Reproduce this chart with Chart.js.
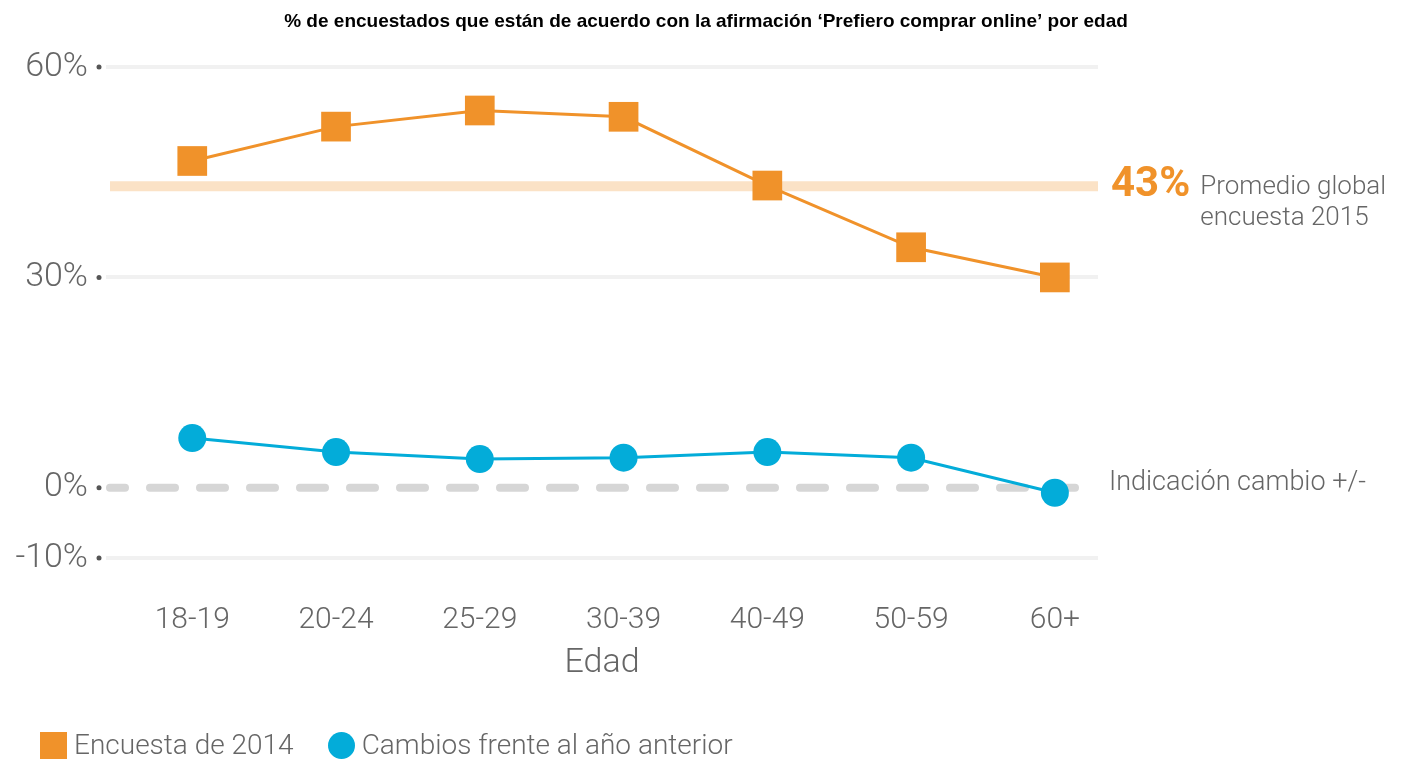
<!DOCTYPE html>
<html lang="es">
<head>
<meta charset="utf-8">
<title>Prefiero comprar online por edad</title>
<script src="https://cdn.jsdelivr.net/npm/chart.js@4"></script>
<style>
  body { margin: 0; background: #fff; }
  #wrap { position: relative; width: 1412px; height: 760px; }
  #leyenda {
    position: absolute; left: 40px; top: 731px;
    display: flex; align-items: center;
    font-family: Roboto, "Liberation Sans", sans-serif; font-weight: 300;
    font-size: 28px; line-height: 28px; color: #666;
  }
  #leyenda .item { display: flex; align-items: center; margin-right: 34px; }
  #leyenda .marca { width: 27px; height: 27px; margin-right: 7px; }
</style>
</head>
<body>
<div id="wrap">
  <canvas id="grafico" width="1412" height="760"></canvas>
  <div id="leyenda"></div>
</div>
<script>
// Datos
const edades = ['18-19', '20-24', '25-29', '30-39', '40-49', '50-59', '60+'];
const encuesta2014 = [46.6, 51.5, 53.8, 52.9, 43.1, 34.3, 30.0];
const cambios = [7.1, 5.1, 4.1, 4.3, 5.1, 4.3, -0.7];
const promedioGlobal = 43;
const ticksY = [60, 30, 0, -10];
const titulo = '% de encuestados que están de acuerdo con la afirmación ‘Prefiero comprar online’ por edad';

const NARANJA = '#F0922A';
const CIAN = '#03ACD9';
const GRIS = '#666666';
const FUENTE = 'Roboto, "Liberation Sans", sans-serif';

// Título centrado en todo el lienzo, franja del promedio, línea de cero y textos a la derecha
const anotaciones = {
  id: 'anotaciones',
  beforeDatasetsDraw(chart) {
    const { ctx, chartArea: area, scales: { y } } = chart;
    ctx.save();
    // franja 43%
    const yProm = y.getPixelForValue(promedioGlobal);
    ctx.strokeStyle = '#FBE2C6';
    ctx.lineWidth = 10;
    ctx.beginPath();
    ctx.moveTo(area.left + 4, yProm);
    ctx.lineTo(area.right, yProm);
    ctx.stroke();
    // línea de cero
    const y0 = y.getPixelForValue(0);
    ctx.strokeStyle = '#D6D6D6';
    ctx.lineWidth = 8;
    ctx.lineCap = 'round';
    ctx.setLineDash([25, 25]);
    ctx.lineDashOffset = 10;
    ctx.beginPath();
    ctx.moveTo(area.left + 4, y0);
    ctx.lineTo(area.right + 2, y0);
    ctx.stroke();
    ctx.restore();
  },
  afterDraw(chart) {
    const { ctx, chartArea: area, scales: { y } } = chart;
    ctx.save();
    ctx.textBaseline = 'middle';
    // título
    ctx.textAlign = 'center';
    ctx.fillStyle = '#000';
    ctx.font = 'bold 19px "Liberation Sans", Arial, sans-serif';
    ctx.fillText(titulo, chart.width / 2, 22);
    // puntos junto a las etiquetas del eje Y
    ctx.fillStyle = '#555';
    y.ticks.forEach(t => {
      ctx.beginPath();
      ctx.arc(area.left - 7, y.getPixelForValue(t.value), 2.5, 0, Math.PI * 2);
      ctx.fill();
    });
    const x = area.right + 13;
    const yProm = y.getPixelForValue(promedioGlobal);
    ctx.textAlign = 'left';
    ctx.fillStyle = NARANJA;
    ctx.font = 'bold 42px ' + FUENTE;
    const txt = promedioGlobal + '%';
    ctx.fillText(txt, x, yProm - 1);
    const xt = x + ctx.measureText(txt).width + 10;
    ctx.fillStyle = GRIS;
    ctx.font = '300 26px ' + FUENTE;
    ctx.fillText('Promedio global', xt, yProm + 1);
    ctx.fillText('encuesta 2015', xt, yProm + 32);
    ctx.font = '300 27px ' + FUENTE;
    ctx.fillText('Indicación cambio +/-', x - 2, y.getPixelForValue(0) - 5);
    ctx.restore();
  }
};

const puntos = vals => vals.map((v, i) => ({ x: i, y: v }));

new Chart(document.getElementById('grafico'), {
  type: 'line',
  data: {
    datasets: [
      {
        label: 'Encuesta de 2014',
        data: puntos(encuesta2014),
        borderColor: NARANJA,
        backgroundColor: NARANJA,
        borderWidth: 3,
        pointStyle: 'rect',
        pointRadius: 21,
        pointHoverRadius: 21,
        pointBorderWidth: 0
      },
      {
        label: 'Cambios frente al año anterior',
        data: puntos(cambios),
        borderColor: CIAN,
        backgroundColor: CIAN,
        borderWidth: 3,
        pointStyle: 'circle',
        pointRadius: 14,
        pointHoverRadius: 14,
        pointBorderWidth: 0
      }
    ]
  },
  options: {
    responsive: false,
    devicePixelRatio: 1,
    animation: false,
    layout: { padding: { left: 0, right: 314, top: 67, bottom: 76 } },
    plugins: {
      legend: { display: false },
      tooltip: { enabled: false }
    },
    scales: {
      x: {
        type: 'linear',
        min: -0.6,
        max: 6.3,
        afterBuildTicks: s => { s.ticks = edades.map((e, i) => ({ value: i })); },
        afterFit: s => { s.height = 126; },
        grid: { display: false },
        border: { display: false },
        ticks: {
          callback: v => edades[v],
          color: GRIS,
          padding: 36,
          maxRotation: 0,
          font: { family: FUENTE, size: 30, weight: '300' }
        },
        title: {
          display: true,
          text: 'Edad',
          color: GRIS,
          padding: { top: 4, bottom: 0 },
          font: { family: FUENTE, size: 34, weight: '300' }
        }
      },
      y: {
        min: -10,
        max: 60,
        afterBuildTicks: s => { s.ticks = ticksY.map(v => ({ value: v })); },
        afterFit: s => { s.width = 106; },
        grid: {
          drawTicks: false,
          lineWidth: 4,
          color: c => (c.tick && c.tick.value === 0 ? 'rgba(0,0,0,0)' : '#F1F1F1')
        },
        border: { display: false },
        ticks: {
          callback: v => v + '%',
          color: GRIS,
          padding: 18,
          font: { family: FUENTE, size: 34, weight: '300' }
        }
      }
    }
  },
  plugins: [anotaciones]
});

// Leyenda en HTML
const leyenda = document.getElementById('leyenda');
[
  { texto: 'Encuesta de 2014', color: NARANJA, radio: '0' },
  { texto: 'Cambios frente al año anterior', color: CIAN, radio: '50%' }
].forEach(it => {
  const item = document.createElement('span');
  item.className = 'item';
  const marca = document.createElement('span');
  marca.className = 'marca';
  marca.style.background = it.color;
  marca.style.borderRadius = it.radio;
  item.appendChild(marca);
  item.appendChild(document.createTextNode(it.texto));
  leyenda.appendChild(item);
});
</script>
</body>
</html>
